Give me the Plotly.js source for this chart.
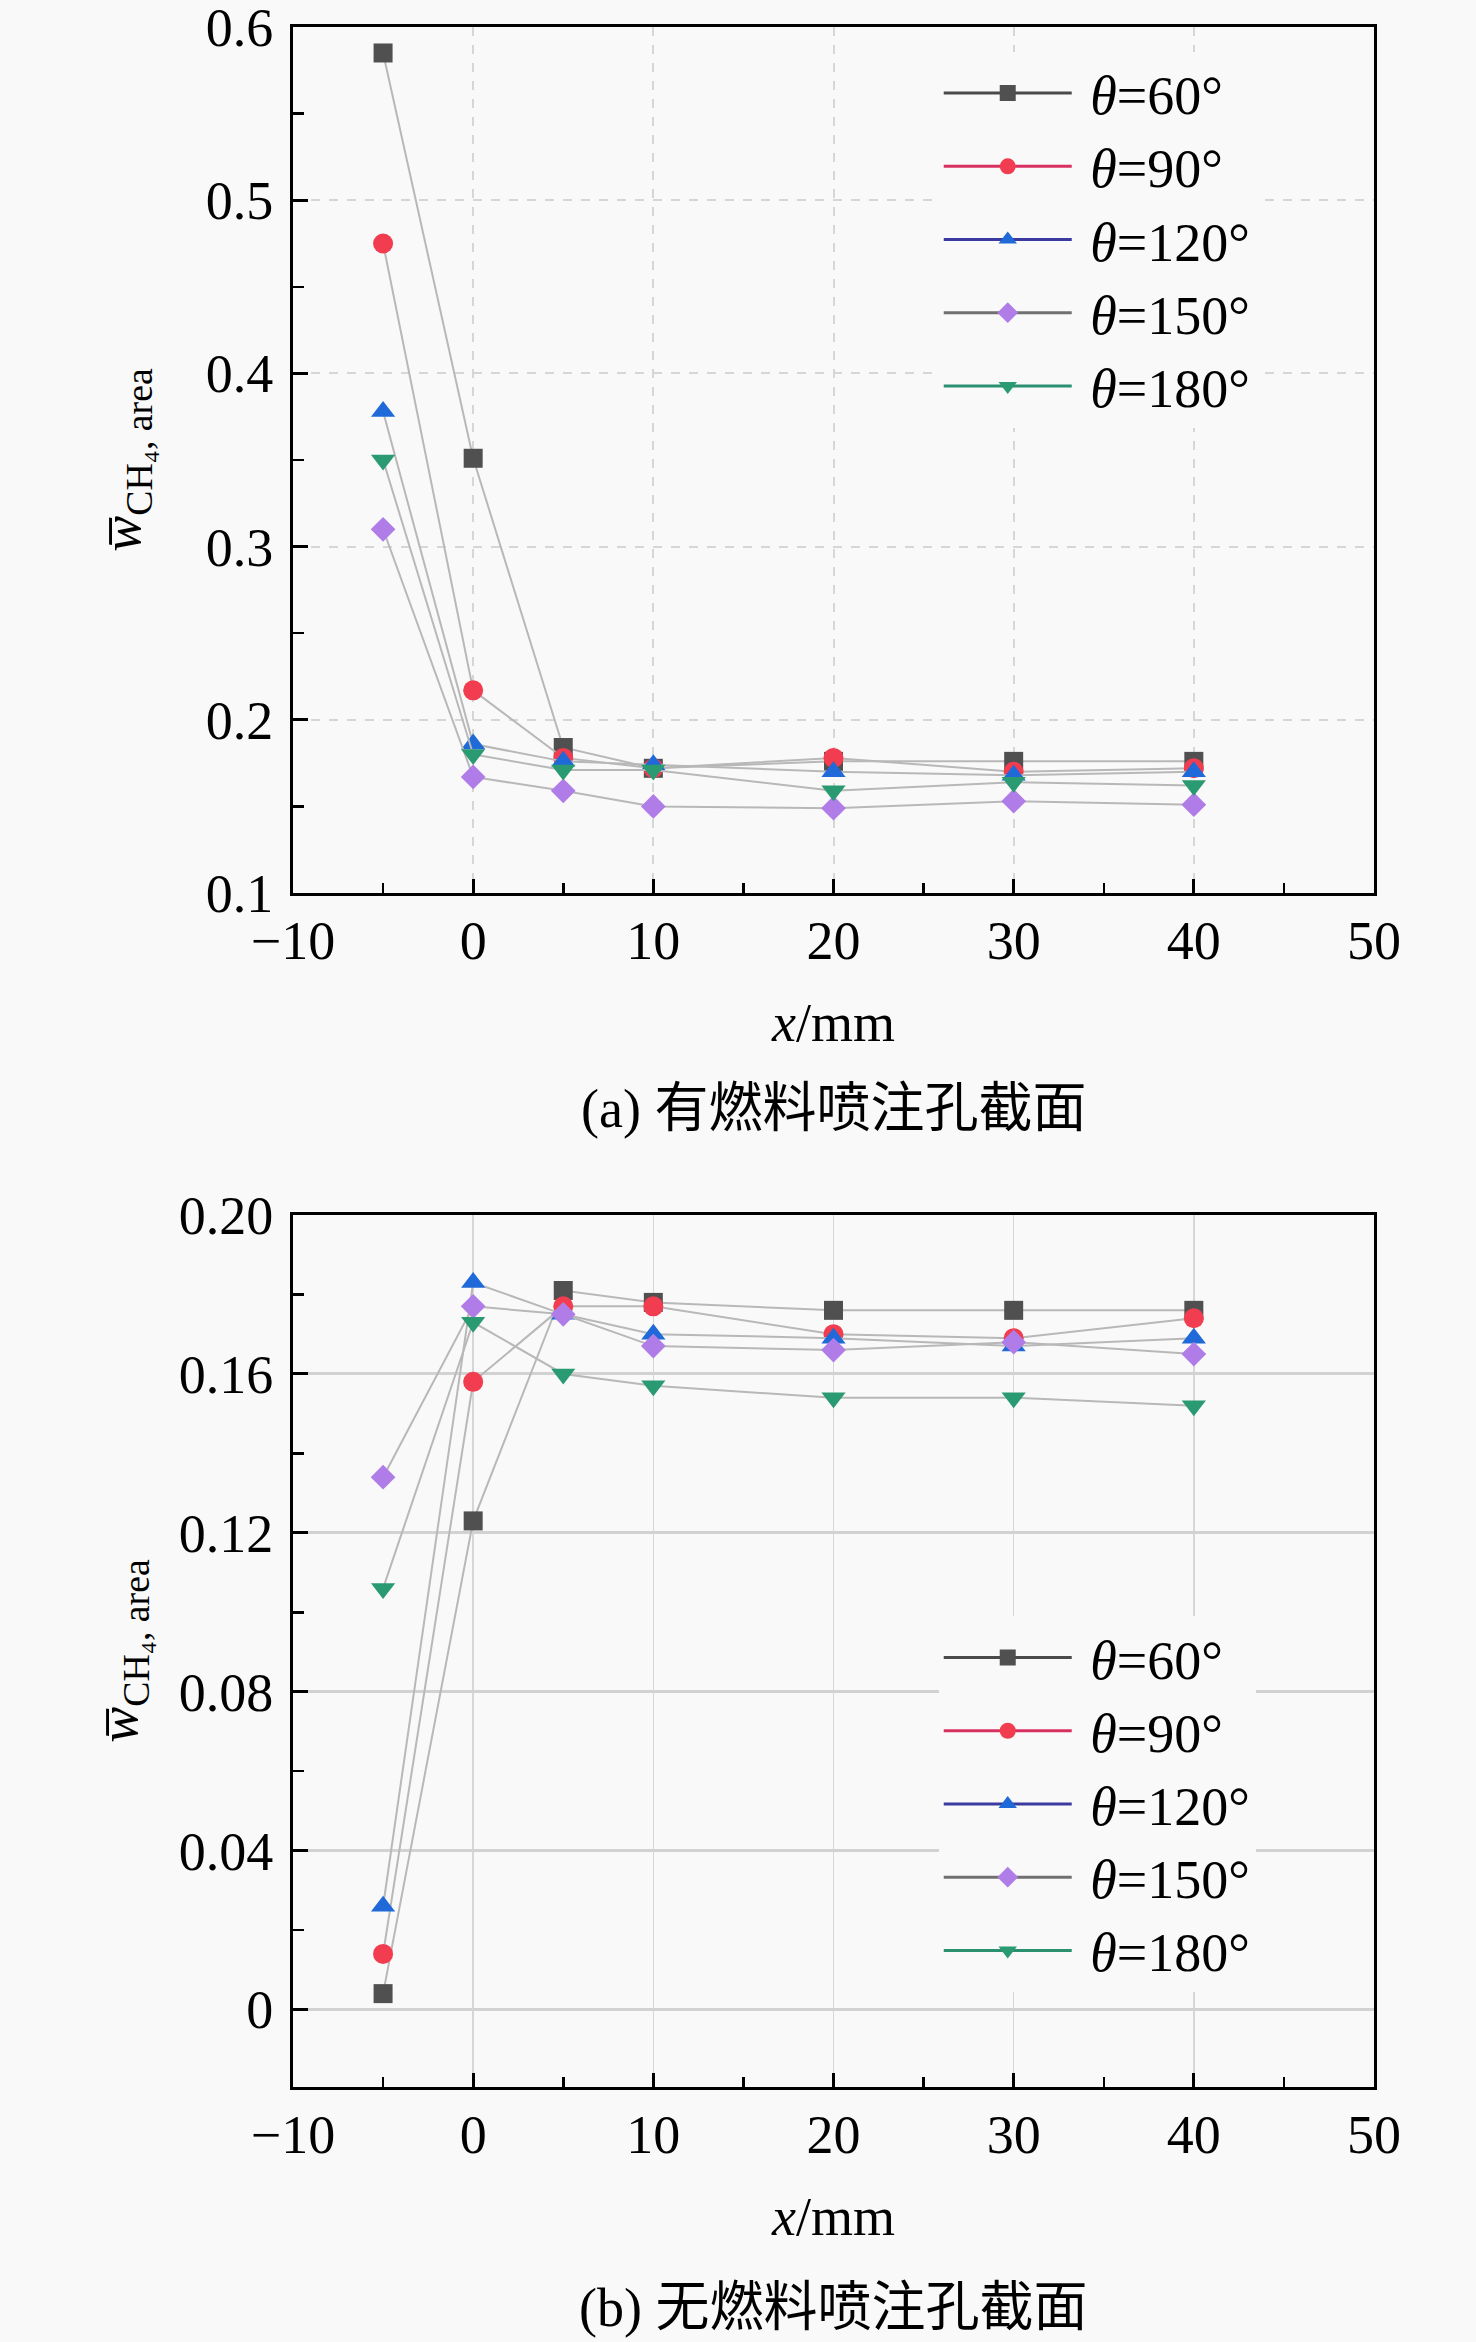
<!DOCTYPE html>
<html>
<head>
<meta charset="utf-8">
<script src="https://cdn.plot.ly/plotly-3.0.1.min.js"></script>
<style>
  body { margin: 0; background: #f9f9f9; }
  #chart { width: 1476px; height: 2342px; }
</style>
</head>
<body>
<div id="chart"></div>
<script>
// x positions (mm)
var xPos = [-5, 0, 5, 10, 20, 30, 40];

// (a) section with fuel injection hole
var a60  = [0.585, 0.351, 0.184, 0.172, 0.176, 0.176, 0.176];
var a90  = [0.475, 0.217, 0.178, 0.172, 0.178, 0.170, 0.172];
var a120 = [0.378, 0.186, 0.176, 0.174, 0.170, 0.168, 0.170];
var a150 = [0.310, 0.167, 0.159, 0.150, 0.149, 0.153, 0.151];
var a180 = [0.350, 0.180, 0.171, 0.171, 0.159, 0.164, 0.162];

// (b) section without fuel injection hole
var b60  = [0.004, 0.123, 0.181, 0.178, 0.176, 0.176, 0.176];
var b90  = [0.014, 0.158, 0.177, 0.177, 0.170, 0.169, 0.174];
var b120 = [0.026, 0.183, 0.175, 0.170, 0.169, 0.167, 0.169];
var b150 = [0.134, 0.177, 0.175, 0.167, 0.166, 0.168, 0.165];
var b180 = [0.106, 0.173, 0.160, 0.157, 0.154, 0.154, 0.152];

var names = ["\u00a0<i>θ</i>=60°", "\u00a0<i>θ</i>=90°", "\u00a0<i>θ</i>=120°", "\u00a0<i>θ</i>=150°", "\u00a0<i>θ</i>=180°"];
var symbols = ["square", "circle", "triangle-up", "diamond", "triangle-down"];
var markerColors = ["#505050", "#f23c50", "#1f6ad8", "#b07ce8", "#2a9a72"];
var legendLineColors = ["#4a4a4a", "#d8305e", "#3a3aa0", "#707070", "#2a9070"];
var markerSizes = [19, 20, 21, 19, 21];

var yTicksB = [0, 0.04, 0.08, 0.12, 0.16, 0.20];
var yTickTextB = ["0", "0.04", "0.08", "0.12", "0.16", "0.20"];
var yMinorB = [0.02, 0.06, 0.10, 0.14, 0.18];

var seriesA = [a60, a90, a120, a150, a180];
var seriesB = [b60, b90, b120, b150, b180];

var font = "'Liberation Serif', 'Noto Sans CJK SC', serif";
var bg = "#f9f9f9";

var data = [];
function addSeries(series, xa, ya, leg) {
  for (var i = 0; i < series.length; i++) {
    data.push({
      type: "scatter",
      mode: "lines+markers",
      x: xPos,
      y: series[i],
      xaxis: xa,
      yaxis: ya,
      showlegend: false,
      line: { color: "#b8b8b8", width: 2 },
      marker: { symbol: symbols[i], size: markerSizes[i], color: markerColors[i] }
    });
  }
  // legend entries (coloured line + marker, no points)
  for (var j = 0; j < series.length; j++) {
    data.push({
      type: "scatter",
      mode: "lines+markers",
      x: [null],
      y: [null],
      xaxis: xa,
      yaxis: ya,
      name: names[j],
      legend: leg,
      showlegend: true,
      line: { color: legendLineColors[j], width: 3 },
      marker: { symbol: symbols[j], size: markerSizes[j], color: markerColors[j] }
    });
  }
}
addSeries(seriesA, "x", "y", "legend");
addSeries(seriesB, "x2", "y2", "legend2");

function xAxis(anchor, gridDash, gridW) {
  return {
    anchor: anchor,
    domain: [293 / 1476, 1374 / 1476],
    range: [-10, 50],
    dtick: 10,
    tick0: 0,
    ticks: "inside",
    ticklen: 14,
    tickwidth: 3,
    tickcolor: "#000",
    minor: { dtick: 5, ticks: "inside", ticklen: 10, tickwidth: 2.5, tickcolor: "#000", showgrid: false },
    showline: true,
    linewidth: 3,
    linecolor: "#000",
    mirror: true,
    showgrid: true,
    gridcolor: "#d6d6d6",
    griddash: gridDash,
    gridwidth: gridW,
    zeroline: false,
    automargin: false,
    ticklabeloverflow: "allow",
    ticklabelstandoff: -2,
    tickfont: { family: font, size: 54, color: "#000" },
    title: { text: "<i>x</i>/mm", font: { family: font, size: 54, color: "#000" }, standoff: 34 }
  };
}

function yTitle(standoff) {
  return { text: "<i>w̅</i><sub>CH₄, area</sub>", font: { family: font, size: 54, color: "#000" }, standoff: standoff };
}

var layout = {
  width: 1476,
  height: 2342,
  margin: { l: 0, r: 0, t: 0, b: 0 },
  paper_bgcolor: bg,
  plot_bgcolor: bg,
  font: { family: font, color: "#000" },
  xaxis: xAxis("y", "dash", 2),
  xaxis2: xAxis("y2", "solid", 1.5),
  yaxis: {
    anchor: "x",
    domain: [1 - 893 / 2342, 1 - 27 / 2342],
    range: [0.1, 0.6],
    dtick: 0.1,
    tick0: 0,
    ticks: "inside",
    ticklen: 15,
    tickwidth: 3,
    tickcolor: "#000",
    minor: { dtick: 0.05, ticks: "inside", ticklen: 11, tickwidth: 2.5, tickcolor: "#000", showgrid: false },
    showline: true,
    linewidth: 3,
    linecolor: "#000",
    mirror: true,
    showgrid: true,
    gridcolor: "#d6d6d6",
    griddash: "dash",
    gridwidth: 2,
    zeroline: false,
    automargin: false,
    ticklabeloverflow: "allow",
    ticklabelstandoff: 6,
    tickfont: { family: font, size: 54, color: "#000" },
    title: yTitle(48)
  },
  yaxis2: {
    anchor: "x2",
    domain: [1 - 2087 / 2342, 1 - 1215 / 2342],
    range: [-0.0195, 0.2],
    tickvals: yTicksB,
    ticktext: yTickTextB,
    ticks: "inside",
    ticklen: 15,
    tickwidth: 3,
    tickcolor: "#000",
    minor: { tickvals: yMinorB, ticks: "inside", ticklen: 11, tickwidth: 2.5, tickcolor: "#000", showgrid: false },
    showline: true,
    linewidth: 3,
    linecolor: "#000",
    mirror: true,
    showgrid: true,
    gridcolor: "#d2d2d2",
    gridwidth: 3,
    zeroline: false,
    automargin: false,
    ticklabeloverflow: "allow",
    ticklabelstandoff: 6,
    tickfont: { family: font, size: 54, color: "#000" },
    title: yTitle(24)
  },
  legend: {
    x: 0.636, y: 0.978, xanchor: "left", yanchor: "top",
    bgcolor: bg, borderwidth: 0,
    itemwidth: 128,
    font: { family: font, size: 54, color: "#000" }
  },
  legend2: {
    x: 0.636, y: 0.310, xanchor: "left", yanchor: "top",
    bgcolor: bg, borderwidth: 0,
    itemwidth: 128,
    font: { family: font, size: 54, color: "#000" }
  },
  annotations: [
    {
      text: "(a) 有燃料喷注孔截面",
      xref: "paper", yref: "paper", x: 833 / 1476, y: 1 - 1109 / 2342,
      xanchor: "center", yanchor: "middle", showarrow: false,
      font: { family: font, size: 54, color: "#000" }
    },
    {
      text: "(b) 无燃料喷注孔截面",
      xref: "paper", yref: "paper", x: 833 / 1476, y: 1 - 2308 / 2342,
      xanchor: "center", yanchor: "middle", showarrow: false,
      font: { family: font, size: 54, color: "#000" }
    }
  ]
};

Plotly.newPlot("chart", data, layout, { staticPlot: true });
</script>
</body>
</html>
